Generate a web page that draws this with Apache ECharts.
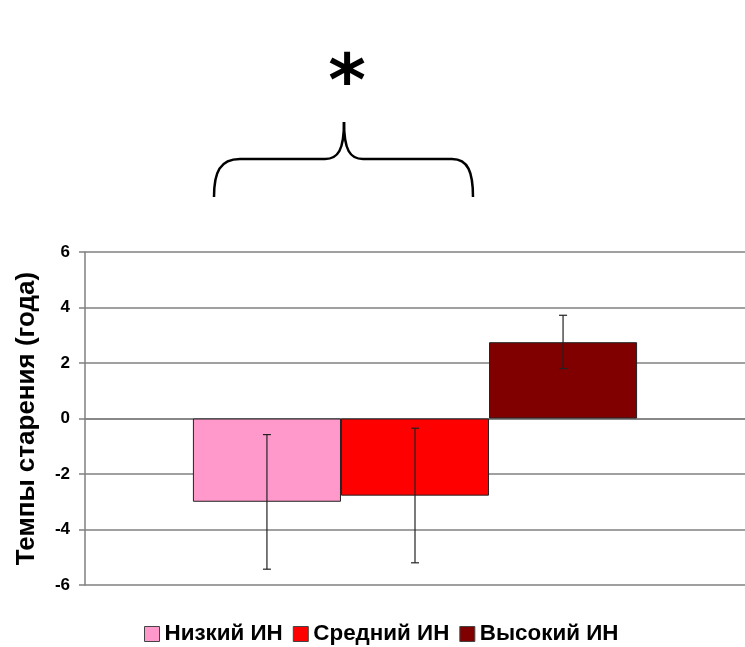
<!DOCTYPE html>
<html>
<head>
<meta charset="utf-8">
<script src="https://cdn.jsdelivr.net/npm/echarts@6/dist/echarts.min.js"></script>
<style>html,body{margin:0;padding:0;background:#fff}#c{width:745px;height:647px}</style>
</head>
<body>
<div id="c"></div>
<script>
const categories = [''];
const seriesNames = ['Низкий ИН', 'Средний ИН', 'Высокий ИН'];
const seriesColors = ['#ff99cc', '#ff0000', '#800000'];
const values = [-3.0, -2.78, 2.75];
const errLow = [-5.43, -5.2, 1.8];
const errHigh = [-0.58, -0.35, 3.72];
const yTicks = [-6, 6, 2];
const yTitle = 'Темпы старения (года)';
const mark = '*';

const FONT = '"Liberation Sans", Arial, sans-serif';
const CAT_GAP = 0.327;

const chart = echarts.init(document.getElementById('c'), null, {renderer: 'canvas'});

const barSeries = seriesNames.map((n, i) => ({
  name: n,
  type: 'bar',
  data: [values[i]],
  barGap: '0%',
  barCategoryGap: (CAT_GAP * 100) + '%',
  itemStyle: {color: seriesColors[i], borderColor: '#222', borderWidth: 1},
  emphasis: {disabled: true},
  z: 2
}));

const errData = seriesNames.map((n, i) => [0, errLow[i], errHigh[i], i]);

const errSeries = {
  type: 'custom',
  name: 'err',
  data: errData,
  encode: {x: 0, y: [1, 2]},
  z: 5,
  silent: true,
  renderItem: function (params, api) {
    const k = api.value(3);
    const band = api.size([1, 0])[0];
    const bw = band * (1 - CAT_GAP) / seriesNames.length;
    const c0 = api.coord([api.value(0), api.value(1)]);
    const c1 = api.coord([api.value(0), api.value(2)]);
    const x = c0[0] + (k - (seriesNames.length - 1) / 2) * bw;
    const cap = 4;
    const st = {stroke: '#222', lineWidth: 1.2};
    return {
      type: 'group',
      children: [
        {type: 'line', shape: {x1: x, y1: c0[1], x2: x, y2: c1[1]}, style: st},
        {type: 'line', shape: {x1: x - cap, y1: c0[1], x2: x + cap, y2: c0[1]}, style: st},
        {type: 'line', shape: {x1: x - cap, y1: c1[1], x2: x + cap, y2: c1[1]}, style: st}
      ]
    };
  }
};

const braceStyle = {fill: 'none', stroke: '#000', lineWidth: 2.5};
const brace = [
  {type: 'bezierCurve', shape: {x1: 214, y1: 197, cpx1: 214, cpy1: 172, cpx2: 220, cpy2: 159, x2: 240, y2: 159}},
  {type: 'line', shape: {x1: 240, y1: 159, x2: 325, y2: 159}},
  {type: 'bezierCurve', shape: {x1: 325, y1: 159, cpx1: 338, cpy1: 159, cpx2: 344, cpy2: 150, x2: 344, y2: 122}},
  {type: 'bezierCurve', shape: {x1: 344, y1: 122, cpx1: 344, cpy1: 150, cpx2: 350, cpy2: 159, x2: 363, y2: 159}},
  {type: 'line', shape: {x1: 363, y1: 159, x2: 452, y2: 159}},
  {type: 'bezierCurve', shape: {x1: 452, y1: 159, cpx1: 468, cpy1: 159, cpx2: 473, cpy2: 172, x2: 473, y2: 197}}
].map(e => Object.assign(e, {style: braceStyle, silent: true}));

chart.setOption({
  animation: false,
  backgroundColor: '#fff',
  grid: {left: 85, right: 0, top: 252, bottom: 62, containLabel: false},
  xAxis: {
    type: 'category',
    data: categories,
    axisLine: {show: true, onZero: true, lineStyle: {color: '#808080', width: 1.5}},
    axisTick: {show: false},
    axisLabel: {show: false},
    splitLine: {show: false}
  },
  yAxis: {
    type: 'value',
    min: yTicks[0], max: yTicks[1], interval: yTicks[2],
    name: yTitle,
    nameLocation: 'middle',
    nameGap: 45,
    nameRotate: 90,
    nameTextStyle: {fontFamily: FONT, fontWeight: 'bold', fontSize: 26, color: '#000'},
    axisLine: {show: true, lineStyle: {color: '#808080', width: 1.5}},
    axisTick: {show: true, length: 6, inside: false, lineStyle: {color: '#808080', width: 1.5}},
    axisLabel: {fontFamily: FONT, fontWeight: 'bold', fontSize: 17, color: '#000', margin: 15},
    splitLine: {show: true, lineStyle: {color: '#808080', width: 1.5}}
  },
  legend: {
    data: seriesNames,
    top: 618,
    left: 139,
    itemWidth: 15,
    itemHeight: 15,
    itemGap: 10,
    icon: 'rect',
    selectedMode: false,
    textStyle: {fontFamily: FONT, fontWeight: 'bold', fontSize: 22.4, color: '#000'},
    itemStyle: {borderColor: '#444', borderWidth: 1}
  },
  series: [...barSeries, errSeries],
  graphic: [
    ...brace,
    {
      type: 'text',
      x: 347, y: 86,
      style: {text: mark, font: 'bold 72px "DejaVu Sans", sans-serif', fill: '#000', textAlign: 'center', textVerticalAlign: 'middle'},
      silent: true
    }
  ]
});
</script>
</body>
</html>
